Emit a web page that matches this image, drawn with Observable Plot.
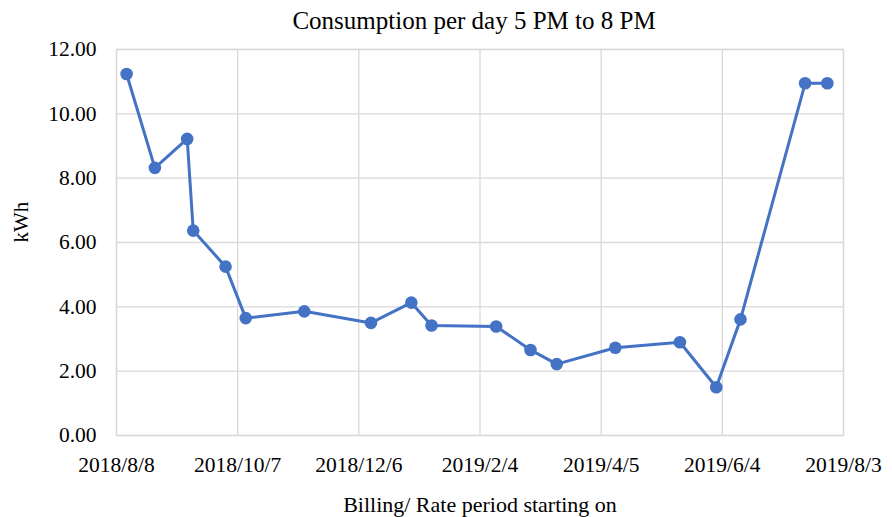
<!DOCTYPE html>
<html>
<head>
<meta charset="utf-8">
<script src="https://cdn.jsdelivr.net/npm/d3@7"></script>
<script src="https://cdn.jsdelivr.net/npm/@observablehq/plot@0.6"></script>
<style>
  html, body { margin: 0; padding: 0; background: #ffffff; }
</style>
</head>
<body>
<div id="chart"></div>
<script>
const dates = ["2018-08-13","2018-08-27","2018-09-12","2018-09-15","2018-10-01","2018-10-11","2018-11-09","2018-12-12","2019-01-01","2019-01-11","2019-02-12","2019-03-01","2019-03-14","2019-04-12","2019-05-14","2019-06-01","2019-06-13","2019-07-15","2019-07-26"];
const kwh = [11.24, 8.32, 9.22, 6.37, 5.25, 3.65, 3.86, 3.50, 4.13, 3.42, 3.39, 2.66, 2.22, 2.73, 2.90, 1.50, 3.61, 10.95, 10.95];
const xTickLabels = ["2018-08-08","2018-10-07","2018-12-06","2019-02-04","2019-04-05","2019-06-04","2019-08-03"];
const yTicks = [0, 2, 4, 6, 8, 10, 12];
const title = "Consumption per day 5 PM to 8 PM";
const xTitle = "Billing/ Rate period starting on";
const yTitle = "kWh";

const parse = d3.utcParse("%Y-%m-%d");
const data = dates.map((d, i) => ({date: parse(d), value: kwh[i]}));
const xTicks = xTickLabels.map(parse);
const fmt = d => `${d.getUTCFullYear()}/${d.getUTCMonth() + 1}/${d.getUTCDate()}`;

const font = "'Liberation Serif', 'Times New Roman', serif";
const grid = "#d9d9d9";
const blue = "#4472C4";

const chart = Plot.plot({
  width: 892,
  height: 517,
  marginLeft: 116,
  marginRight: 49,
  marginTop: 49,
  marginBottom: 82,
  style: {fontFamily: font, background: "#ffffff", color: "#000000"},
  x: {type: "utc", domain: [xTicks[0], xTicks[xTicks.length - 1]]},
  y: {domain: [0, 12]},
  marks: [
    Plot.gridX(xTicks, {stroke: grid, strokeOpacity: 1, strokeWidth: 1.3}),
    Plot.gridY(yTicks, {stroke: grid, strokeOpacity: 1, strokeWidth: 1.3}),
    Plot.frame({stroke: grid, strokeWidth: 1.3}),
    Plot.axisX(xTicks, {tickSize: 0, tickPadding: 21, tickFormat: fmt, fontSize: 21.5, label: null, fill: "#000"}),
    Plot.axisY(yTicks, {tickSize: 0, tickPadding: 20, tickFormat: d => d.toFixed(2), fontSize: 21.5, label: null, fill: "#000"}),
    Plot.line(data, {x: "date", y: "value", stroke: blue, strokeWidth: 3}),
    Plot.dot(data, {x: "date", y: "value", r: 6.3, fill: blue, stroke: "none"}),
    Plot.text([title], {frameAnchor: "top", lineAnchor: "middle", dy: -28.5, dx: -6, fontSize: 25, fill: "#000"}),
    Plot.text([xTitle], {frameAnchor: "bottom", lineAnchor: "middle", dy: 69, fontSize: 22, fill: "#000"}),
    Plot.text([yTitle], {frameAnchor: "left", lineAnchor: "middle", rotate: -90, dx: -95, fontSize: 21, fill: "#000"})
  ]
});
document.getElementById("chart").appendChild(chart);
</script>
</body>
</html>
